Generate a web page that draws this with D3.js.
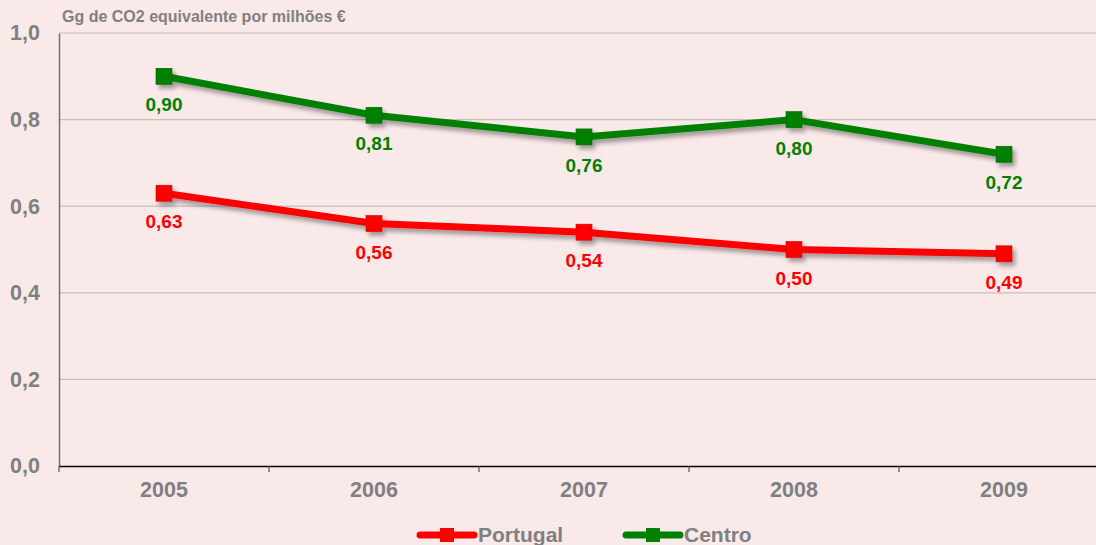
<!DOCTYPE html>
<html>
<head>
<meta charset="utf-8">
<script src="https://cdn.jsdelivr.net/npm/d3@7"></script>
<style>
  html, body { margin: 0; padding: 0; background: #f9e9e9; }
  svg { display: block; font-family: "Liberation Sans", Arial, sans-serif; }
</style>
</head>
<body>
<svg id="chart" width="1096" height="545"></svg>
<script>
// Emission intensity, Gg CO2 eq. per million €
const years = ["2005", "2006", "2007", "2008", "2009"];
const portugal = [0.63, 0.56, 0.54, 0.50, 0.49];
const centro = [0.90, 0.81, 0.76, 0.80, 0.72];
const yTicks = [0, 0.2, 0.4, 0.6, 0.8, 1.0];
const unitLabel = "Gg de CO2 equivalente por milhões €";

const series = [
  { name: "Portugal", values: portugal, color: "#ff0000" },
  { name: "Centro", values: centro, color: "#008000" }
];

const W = 1096, H = 545;
const margin = { left: 59, top: 33, bottom: 79 };
const svg = d3.select("#chart");

svg.append("rect").attr("width", W).attr("height", H).attr("fill", "#f9e9e9");

const defs = svg.append("defs");
const f = defs.append("filter").attr("id", "shadow")
  .attr("x", "-20%").attr("y", "-20%").attr("width", "140%").attr("height", "160%");
f.append("feDropShadow").attr("dx", 3).attr("dy", 4).attr("stdDeviation", 2.2)
  .attr("flood-color", "#000").attr("flood-opacity", 0.35);

const x = d3.scaleBand().domain(years).range([margin.left, margin.left + 210 * years.length]);
const y = d3.scaleLinear().domain([0, 1]).range([H - margin.bottom, margin.top]);

const fmt = v => d3.format(".1f")(v).replace(".", ",");
const fmt2 = v => d3.format(".2f")(v).replace(".", ",");

// horizontal gridlines
svg.append("g").selectAll("line").data(yTicks.filter(d => d > 0)).join("line")
  .attr("x1", margin.left).attr("x2", W)
  .attr("y1", d => y(d)).attr("y2", d => y(d))
  .attr("stroke", "#c4bfbf").attr("stroke-width", 1.2);

// y axis
const yAxis = svg.append("g").attr("transform", `translate(${margin.left},0)`)
  .call(d3.axisLeft(y).tickValues(yTicks).tickFormat(fmt).tickSize(0).tickPadding(19));
yAxis.select(".domain").attr("stroke", "#707070").attr("stroke-width", 1.5);
yAxis.selectAll("text").attr("fill", "#808080").attr("font-size", 21.5).attr("font-weight", "bold")
  .attr("font-family", "Liberation Sans, Arial, sans-serif");

// x axis
const xAxis = svg.append("g").attr("transform", `translate(0,${y(0)})`)
  .call(d3.axisBottom(x).tickSize(0).tickPadding(16));
xAxis.select(".domain").attr("stroke", "#000").attr("stroke-width", 1.5);
xAxis.selectAll("text").attr("fill", "#808080").attr("font-size", 21.5).attr("font-weight", "bold")
  .attr("font-family", "Liberation Sans, Arial, sans-serif");
// category boundary ticks
svg.append("g").selectAll("line").data(d3.range(years.length)).join("line")
  .attr("x1", i => x.range()[0] + i * x.step()).attr("x2", i => x.range()[0] + i * x.step())
  .attr("y1", y(0)).attr("y2", y(0) + 6)
  .attr("stroke", "#555").attr("stroke-width", 1.2);

// unit label
svg.append("text").attr("x", 62).attr("y", 22).text(unitLabel)
  .attr("fill", "#808080").attr("font-size", 16).attr("font-weight", "bold");

// series lines, markers, value labels
const line = d3.line().x((d, i) => x(years[i]) + x.bandwidth() / 2).y(d => y(d));
series.forEach(s => {
  const g = svg.append("g").attr("filter", "url(#shadow)");
  g.append("path").attr("d", line(s.values)).attr("fill", "none")
    .attr("stroke", s.color).attr("stroke-width", 7).attr("stroke-linejoin", "round");
  g.selectAll("rect").data(s.values).join("rect")
    .attr("x", (d, i) => x(years[i]) + x.bandwidth() / 2 - 8)
    .attr("y", d => y(d) - 8)
    .attr("width", 16).attr("height", 16)
    .attr("fill", s.color).attr("stroke", d3.color(s.color).darker(0.6)).attr("stroke-width", 0.6);
  svg.append("g").selectAll("text").data(s.values).join("text")
    .attr("x", (d, i) => x(years[i]) + x.bandwidth() / 2)
    .attr("y", d => y(d) + 35)
    .attr("text-anchor", "middle")
    .attr("fill", s.color).attr("font-size", 19).attr("font-weight", "bold")
    .text(fmt2);
});

// legend
const legendX = [418, 624];
series.forEach((s, i) => {
  const g = svg.append("g").attr("transform", `translate(${legendX[i]},535)`);
  g.append("line").attr("x1", 2).attr("x2", 56).attr("y1", 0).attr("y2", 0)
    .attr("stroke", s.color).attr("stroke-width", 7).attr("stroke-linecap", "round");
  g.append("rect").attr("x", 22).attr("y", -7).attr("width", 14).attr("height", 14).attr("fill", s.color);
  g.append("text").attr("x", 60).attr("y", 7).text(s.name)
    .attr("fill", "#808080").attr("font-size", 21).attr("font-weight", "bold");
});
</script>
</body>
</html>
